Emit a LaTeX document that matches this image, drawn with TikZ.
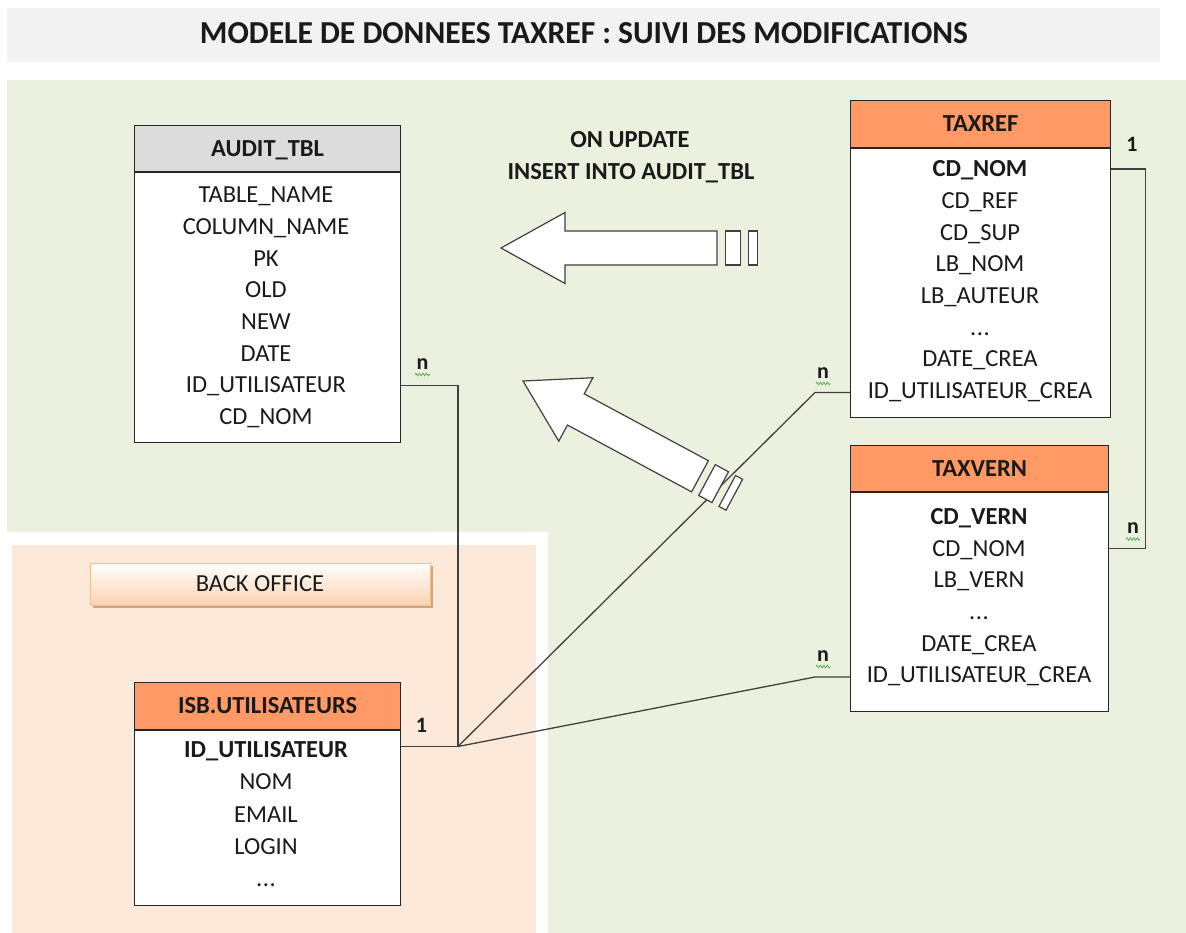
\documentclass[tikz,border=0pt]{standalone}
\usepackage{fontspec}
\setmainfont{Carlito}
\usepackage{graphicx}
\usetikzlibrary{calc,decorations.pathmorphing,shadows}
\definecolor{bggreen}{HTML}{EBF1DE}
\definecolor{peach}{HTML}{FDE9D9}
\definecolor{titlegray}{HTML}{F2F2F2}
\definecolor{hdrorange}{HTML}{FF9966}
\definecolor{hdrgray}{HTML}{DCDCDC}
\definecolor{linegray}{HTML}{404040}
\definecolor{boxline}{HTML}{262626}
\definecolor{btnedge}{HTML}{F9C08F}
\definecolor{btnbot}{HTML}{FBD3B2}
\definecolor{squig}{HTML}{4CAF50}
\definecolor{txt}{HTML}{1A1A1A}
\newcommand{\threedots}{.\kern0.5pt.\kern0.5pt.}
\tikzset{
  tblhdr/.style={draw=boxline, line width=1.2pt, anchor=north west, inner sep=0pt,
    text height=15.4pt, text depth=0pt, text=txt, font=\fontsize{24.5}{28}\selectfont\bfseries},
  tblbody/.style={draw=boxline, line width=1.2pt, fill=white, anchor=north west, inner sep=0pt},
  tblsep/.style={draw=boxline, line width=2pt},
  rowtxt/.style={inner sep=0pt, text height=15.4pt, text depth=0pt, text=txt,
    font=\fontsize{24.5}{28}\selectfont},
  boldtxt/.style={rowtxt, font=\fontsize{24.5}{28}\selectfont\bfseries},
  conn/.style={draw=linegray, line width=1.3pt},
  card/.style={inner sep=0pt, text=txt, font=\fontsize{22}{26}\selectfont\bfseries},
  squiggle/.style={draw=squig, line width=0.8pt, decorate,
    decoration={zigzag, segment length=3.5pt, amplitude=1.3pt}},
  bigarrow/.style={draw=linegray, fill=white, line width=1.2pt, line join=miter},
  btn/.style={draw=btnedge, line width=1pt, top color=white, bottom color=btnbot,
    minimum width=340pt, minimum height=42pt, inner sep=0pt, text height=15.4pt, text depth=0pt,
    text=txt, font=\fontsize{24.5}{28}\selectfont,
    drop shadow={shadow xshift=2.5pt, shadow yshift=-2.5pt, fill=brown!70!black, opacity=0.45}},
}
\begin{document}
\begin{tikzpicture}[x=1pt,y=-1pt]
\useasboundingbox (0,0) rectangle (1186,933);
% backgrounds
\fill[titlegray] (7,8) rectangle (1160,62);
\node[inner sep=0pt, text=txt] (title) at (584,33) {\resizebox{768pt}{21pt}{\bfseries MODELE DE DONNEES TAXREF : SUIVI DES MODIFICATIONS}};
\fill[bggreen] (7,80) rectangle (1186,933);
\fill[white] (7,532) rectangle (548,933);
\fill[peach] (12,545) rectangle (536,933);

% back office button
\node[btn] (bo) at (260,584) {BACK OFFICE};

% AUDIT_TBL
\node[tblhdr, fill=hdrgray, minimum width=266pt, minimum height=46pt] (audit-h) at (134,125) {AUDIT\_TBL};
\node[tblbody, minimum width=266pt, minimum height=271pt] (audit) at (134,171) {};
\draw[tblsep] (audit-h.south west) -- (audit-h.south east);
\node[rowtxt] (audit-1) at (266,195.0) {TABLE\_NAME};
\node[rowtxt] (audit-2) at (266,226.7) {COLUMN\_NAME};
\node[rowtxt] (audit-3) at (266,258.4) {PK};
\node[rowtxt] (audit-4) at (266,290.1) {OLD};
\node[rowtxt] (audit-5) at (266,321.8) {NEW};
\node[rowtxt] (audit-6) at (266,353.5) {DATE};
\node[rowtxt] (audit-7) at (266,385.2) {ID\_UTILISATEUR};
\node[rowtxt] (audit-8) at (266,417.0) {CD\_NOM};

% TAXREF
\node[tblhdr, fill=hdrorange, minimum width=260pt, minimum height=47pt] (taxref-h) at (850,100) {TAXREF};
\node[tblbody, minimum width=260pt, minimum height=270pt] (taxref) at (850,147) {};
\draw[tblsep] (taxref-h.south west) -- (taxref-h.south east);
\node[boldtxt] (taxref-1) at (980,169.0) {CD\_NOM};
\node[rowtxt] (taxref-2) at (980,200.7) {CD\_REF};
\node[rowtxt] (taxref-3) at (980,232.4) {CD\_SUP};
\node[rowtxt] (taxref-4) at (980,264.1) {LB\_NOM};
\node[rowtxt] (taxref-5) at (980,295.8) {LB\_AUTEUR};
\node[rowtxt] (taxref-6) at (980,327.5) {\threedots};
\node[rowtxt] (taxref-7) at (980,359.2) {DATE\_CREA};
\node[rowtxt] (taxref-8) at (980,391.0) {ID\_UTILISATEUR\_CREA};

% TAXVERN
\node[tblhdr, fill=hdrorange, minimum width=258pt, minimum height=46pt] (taxvern-h) at (850,445) {TAXVERN};
\node[tblbody, minimum width=258pt, minimum height=220pt] (taxvern) at (850,491) {};
\draw[tblsep] (taxvern-h.south west) -- (taxvern-h.south east);
\node[boldtxt] (taxvern-1) at (979,517.0) {CD\_VERN};
\node[rowtxt] (taxvern-2) at (979,548.6) {CD\_NOM};
\node[rowtxt] (taxvern-3) at (979,580.2) {LB\_VERN};
\node[rowtxt] (taxvern-4) at (979,611.8) {\threedots};
\node[rowtxt] (taxvern-5) at (979,643.4) {DATE\_CREA};
\node[rowtxt] (taxvern-6) at (979,675.0) {ID\_UTILISATEUR\_CREA};

% ISB.UTILISATEURS
\node[tblhdr, fill=hdrorange, minimum width=266pt, minimum height=47pt] (isb-h) at (134,682) {ISB.UTILISATEURS};
\node[tblbody, minimum width=266pt, minimum height=176pt] (isb) at (134,729) {};
\draw[tblsep] (isb-h.south west) -- (isb-h.south east);
\node[boldtxt] (isb-1) at (266,750.0) {ID\_UTILISATEUR};
\node[rowtxt] (isb-2) at (266,782.2) {NOM};
\node[rowtxt] (isb-3) at (266,814.4) {EMAIL};
\node[rowtxt] (isb-4) at (266,846.6) {LOGIN};
\node[rowtxt] (isb-5) at (266,878.8) {\threedots};

% connectors
\coordinate (hub) at (458,746.5);
\draw[conn] (audit.east |- audit-7) -| (hub) -- (isb.east |- hub);
\draw[conn] (hub) -- ($(taxref.west |- taxref-8)+(-35,1.5)$) -- ($(taxref.west |- taxref-8)+(0,1.5)$);
\draw[conn] (hub) -- ($(taxvern.west |- taxvern-6)+(-35,2)$) -- ($(taxvern.west |- taxvern-6)+(0,2)$);
\draw[conn] (taxref.east |- taxref-1) -- ++(34,0) |- (taxvern.east |- taxvern-2);

% cardinalities
\node[card] (n1) at (422.5,364) {n};
\draw[squiggle] (415,374.5) -- (430,374.5);
\node[card] (c1) at (421.5,725) {1};
\node[card] (n2) at (823,373) {n};
\draw[squiggle] (816,383.5) -- (830,383.5);
\node[card] (n3) at (823,656) {n};
\draw[squiggle] (816,666.5) -- (830,666.5);
\node[card] (c2) at (1132,144) {1};
\node[card] (n4) at (1133,528.5) {n};
\draw[squiggle] (1126,539) -- (1140,539);

% trigger label
\node[boldtxt] (lbl1) at (630,140) {ON UPDATE};
\node[boldtxt] (lbl2) at (631,172) {INSERT INTO AUDIT\_TBL};

% horizontal big arrow
\draw[bigarrow] (501,248) -- (565,212.5) -- (565,231) -- (717,231) -- (717,265) -- (565,265) -- (565,283.5) -- cycle;
\draw[bigarrow] (725.5,231) rectangle (740.5,265);
\draw[bigarrow] (748.5,231) rectangle (757.5,265);

% diagonal big arrow
\begin{scope}[shift={(523,381)}, rotate=-28.3]
  \draw[bigarrow] (0,0) -- (60,-36) -- (60,-17.7) -- (201,-17.7) -- (201,17.7) -- (60,17.7) -- (60,36) -- cycle;
  \draw[bigarrow] (209,-17.5) rectangle (224,17.5);
  \draw[bigarrow] (232,-17.5) rectangle (240,17.5);
\end{scope}
\end{tikzpicture}
\end{document}
